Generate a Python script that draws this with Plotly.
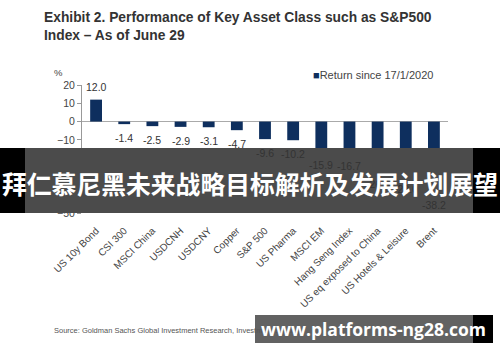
import plotly.graph_objects as go

categories = ["US 10y Bond", "CSI 300", "MSCI China", "USDCNH", "USDCNY", "Copper",
              "S&P 500", "US Pharma", "MSCI EM", "Hang Seng Index",
              "US eq exposed to China", "US Hotels & Leisure", "Brent"]
returns = [12.0, -1.4, -2.5, -2.9, -3.1, -4.7, -9.6, -10.2, -15.9, -16.7, -26.5, -29.0, -38.2]
y_ticks = [20, 10, 0, -10, -20, -30, -40, -50]
series_name = "Return since 17/1/2020"

W, H = 500, 362
L, R, T, B = 82, 52, 85, 149
PW, PH = W - L - R, H - T - B

def px_x(p):
    return (p - L) / PW

def px_y(p):
    return (H - B - p) / PH

fig = go.Figure()
fig.add_trace(go.Bar(
    x=categories, y=returns, name=series_name,
    marker=dict(color="#0e2f5e", line=dict(width=0)),
    width=0.42, showlegend=False,
))

# value labels
for c, v in zip(categories, returns):
    fig.add_annotation(x=c, y=v, text=f"{v:.1f}", showarrow=False,
                       yshift=13 if v >= 0 else -14, xanchor="center", yanchor="middle",
                       font=dict(size=10.5, color="#333333", family="Liberation Sans, Arial"))

fig.update_layout(
    width=W, height=H,
    margin=dict(l=L, r=R, t=T, b=B),
    paper_bgcolor="white", plot_bgcolor="white",
    font=dict(family="Liberation Sans, Arial", color="#333333"),
    showlegend=False,
    xaxis=dict(type="category", tickangle=-45, tickfont=dict(size=10, color="#444444"),
               showline=False, showgrid=False, ticks="outside", ticklen=7,
               tickcolor="rgba(0,0,0,0)", automargin=False),
    yaxis=dict(range=[-50, 20], tickvals=y_ticks, showgrid=False,
               showline=True, linecolor="#999999", linewidth=1,
               ticks="outside", ticklen=4, tickcolor="#999999",
               tickfont=dict(size=10.5, color="#444444"), automargin=False,
               zeroline=True, zerolinecolor="#aaaaaa", zerolinewidth=1),
)

# title
fig.add_annotation(xref="paper", yref="paper", x=px_x(42), y=px_y(8),
                   xanchor="left", yanchor="top", align="left", showarrow=False,
                   text="<b>Exhibit 2. Performance of Key Asset Class such as S&P500<br>Index – As of June 29</b>",
                   font=dict(size=13.8, color="#333333", family="Liberation Sans, Arial"))
# legend
fig.add_annotation(xref="paper", yref="paper", x=px_x(311), y=px_y(75),
                   xanchor="left", yanchor="middle", showarrow=False,
                   text="<span style='color:#0e2f5e'>■</span>" + series_name,
                   font=dict(size=11, color="#444444"))
# % label
fig.add_annotation(xref="paper", yref="paper", x=px_x(58), y=px_y(72),
                   xanchor="center", yanchor="middle", showarrow=False, text="%",
                   font=dict(size=9.5, color="#444444"))
# source
fig.add_annotation(xref="paper", yref="paper", x=px_x(52), y=px_y(330),
                   xanchor="left", yanchor="middle", showarrow=False,
                   text="Source: Goldman Sachs Global Investment Research, Investment Strategy",
                   font=dict(size=7.5, color="#555555"))

# overlay banner 1
fig.add_shape(type="rect", xref="paper", yref="paper", layer="above",
              x0=px_x(0), x1=px_x(500), y0=px_y(213), y1=px_y(148),
              fillcolor="black", line=dict(width=0))
fig.add_shape(type="rect", xref="paper", yref="paper", layer="above",
              x0=px_x(25), x1=px_x(473), y0=px_y(213), y1=px_y(148),
              fillcolor="rgba(85,85,85,0.88)", line=dict(width=0))
fig.add_annotation(xref="paper", yref="paper", x=px_x(250), y=px_y(183),
                   xanchor="center", yanchor="middle", showarrow=False,
                   text="<b>拜仁慕尼黑未来战略目标解析及发展计划展望</b>",
                   font=dict(size=24.8, color="white", family="Noto Sans CJK SC"))
# overlay banner 2
fig.add_shape(type="rect", xref="paper", yref="paper", layer="above",
              x0=px_x(473), x1=px_x(493), y0=px_y(343), y1=px_y(315),
              fillcolor="black", line=dict(width=0))
fig.add_shape(type="rect", xref="paper", yref="paper", layer="above",
              x0=px_x(255), x1=px_x(473), y0=px_y(343), y1=px_y(315),
              fillcolor="rgba(85,85,85,0.92)", line=dict(width=0))
fig.add_annotation(xref="paper", yref="paper", x=px_x(373), y=px_y(329),
                   xanchor="center", yanchor="middle", showarrow=False,
                   text="<b>www.platforms-ng28.com</b>",
                   font=dict(size=17.5, color="white", family="Open Sans"))

fig.write_html("out.html", config={"displayModeBar": False},
               post_script="document.body.style.margin='0';document.body.style.padding='0';")
